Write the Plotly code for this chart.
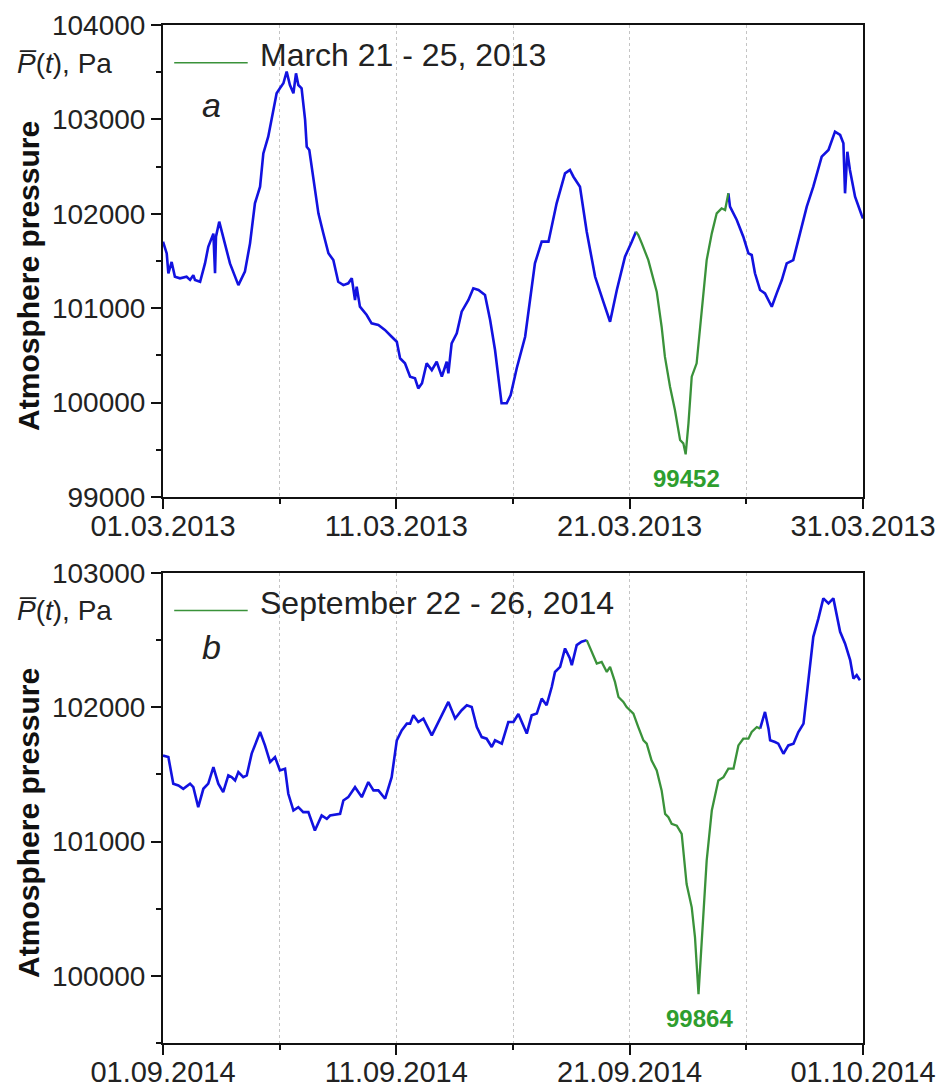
import pandas as pd
import plotly.graph_objects as go

# ---------------- data ----------------
START_A = "2013-03-01"
END_A = "2013-03-31"
START_B = "2014-09-01"
END_B = "2014-10-01"

# days since start of month, atmosphere pressure (Pa)
days_a = [0.00, 0.16, 0.23, 0.37, 0.51, 0.73, 1.01, 1.16, 1.30, 1.37, 1.59, 1.80, 1.94, 2.16, 2.23,
          2.27, 2.41, 2.58, 2.87, 3.23, 3.51, 3.73, 3.94, 4.16, 4.30, 4.51, 4.66, 4.87, 5.01, 5.16,
          5.30, 5.44, 5.59, 5.70, 5.80, 5.94, 6.09, 6.16, 6.27, 6.44, 6.66, 6.87, 7.09, 7.30, 7.51,
          7.73, 7.94, 8.09, 8.23, 8.30, 8.44, 8.73, 8.94, 9.23, 9.51, 9.80, 10.02, 10.16, 10.37, 10.59,
          10.80, 10.94, 11.10, 11.30, 11.52, 11.73, 11.95, 12.16, 12.23, 12.37, 12.59, 12.80, 13.09,
          13.30, 13.52, 13.80, 14.02, 14.23, 14.37, 14.51, 14.73, 14.90, 15.16, 15.52, 15.94, 16.23,
          16.52, 16.87, 17.23, 17.44, 17.59, 17.87, 18.16, 18.52, 18.87, 19.16, 19.45, 19.80, 20.09,
          20.27, 20.37, 20.52, 20.80, 21.16, 21.37, 21.51, 21.73, 21.94, 22.16, 22.30, 22.40, 22.52,
          22.66, 22.87, 23.09, 23.30, 23.52, 23.73, 23.94, 24.09, 24.23, 24.30, 24.59, 24.87, 25.09,
          25.23, 25.37, 25.59, 25.80, 26.09, 26.30, 26.52, 26.73, 27.01, 27.30, 27.59, 27.87, 28.23,
          28.52, 28.80, 29.02, 29.16, 29.23, 29.33, 29.44, 29.66, 29.94, 30.00]
pressure_a = [101704, 101580, 101370, 101490, 101333, 101317, 101333, 101300, 101350, 101300, 101280,
              101475, 101650, 101790, 101370, 101757, 101917, 101757, 101475, 101245, 101387, 101687,
              102111, 102287, 102640, 102817, 102994, 103277, 103330, 103383, 103506, 103364, 103277,
              103488, 103364, 103330, 102994, 102711, 102676, 102393, 102005, 101794, 101582, 101510,
              101280, 101245, 101264, 101317, 101087, 101229, 101017, 100928, 100840, 100822, 100770,
              100698, 100645, 100470, 100417, 100275, 100257, 100151, 100205, 100417, 100345, 100433,
              100275, 100433, 100310, 100628, 100734, 100963, 101087, 101211, 101193, 101140, 100875,
              100557, 100240, 99993, 99993, 100080, 100364, 100698, 101475, 101705, 101705, 102111,
              102429, 102464, 102393, 102287, 101811, 101333, 101069, 100857, 101193, 101546, 101705,
              101811, 101775, 101687, 101510, 101175, 100804, 100487, 100169, 99922, 99604, 99569,
              99452, 99780, 100275, 100417, 100981, 101510, 101793, 102005, 102058, 102040, 102217,
              102076, 101935, 101758, 101582, 101564, 101370, 101193, 101157, 101016, 101157, 101298,
              101475, 101510, 101793, 102076, 102287, 102605, 102676, 102870, 102835, 102747, 102217,
              102658, 102464, 102181, 101987, 101950]
highlight_a = (20.27, 24.23)          # "March 21 - 25, 2013"
min_label_a = "99452"

days_b = [0.00, 0.23, 0.44, 0.66, 0.87, 1.16, 1.30, 1.51, 1.73, 1.94, 2.16, 2.37, 2.58, 2.80, 2.94,
          3.09, 3.23, 3.44, 3.59, 3.80, 4.16, 4.37, 4.59, 4.80, 5.01, 5.23, 5.37, 5.59, 5.80, 6.01,
          6.23, 6.51, 6.80, 7.02, 7.16, 7.59, 7.73, 7.94, 8.23, 8.52, 8.80, 9.02, 9.23, 9.52, 9.80,
          10.02, 10.23, 10.45, 10.59, 10.73, 10.94, 11.16, 11.52, 11.80, 12.23, 12.52, 12.80, 13.02,
          13.23, 13.45, 13.66, 13.87, 14.09, 14.23, 14.52, 14.80, 15.02, 15.23, 15.59, 15.80, 16.02,
          16.23, 16.44, 16.66, 16.80, 17.02, 17.23, 17.44, 17.52, 17.73, 17.94, 18.16, 18.37, 18.59,
          18.80, 19.02, 19.16, 19.37, 19.52, 19.73, 19.87, 20.16, 20.37, 20.59, 20.73, 20.94, 21.16,
          21.37, 21.52, 21.66, 21.80, 22.02, 22.23, 22.44, 22.66, 22.80, 22.95, 23.09, 23.30, 23.52,
          23.80, 24.02, 24.23, 24.45, 24.66, 24.87, 25.09, 25.23, 25.45, 25.59, 25.80, 25.95, 26.02,
          26.23, 26.37, 26.59, 26.80, 27.02, 27.23, 27.45, 27.66, 27.87, 28.09, 28.30, 28.52, 28.73,
          29.02, 29.23, 29.45, 29.59, 29.73, 29.87]
pressure_b = [101640, 101629, 101431, 101418, 101393, 101431, 101405, 101256, 101393, 101431, 101555,
              101431, 101368, 101493, 101480, 101455, 101517, 101480, 101493, 101655, 101816, 101716,
              101592, 101629, 101530, 101543, 101356, 101231, 101256, 101219, 101219, 101082, 101194,
              101169, 101194, 101206, 101306, 101331, 101405, 101331, 101443, 101381, 101381, 101319,
              101480, 101754, 101828, 101878, 101878, 101940, 101890, 101916, 101791, 101890, 102040,
              101916, 101978, 102015, 102002, 101853, 101778, 101766, 101704, 101754, 101729, 101890,
              101890, 101950, 101804, 101940, 101953, 102065, 102015, 102151, 102263, 102301, 102438,
              102363, 102313, 102463, 102488, 102500, 102413, 102326, 102338, 102263, 102301, 102189,
              102077, 102040, 102002, 101953, 101853, 101754, 101729, 101604, 101530, 101381, 101206,
              101182, 101132, 101119, 101057, 100684, 100510, 100286, 99864, 100286, 100858, 101231,
              101455, 101480, 101543, 101543, 101716, 101766, 101766, 101816, 101853, 101841, 101965,
              101841, 101754, 101741, 101729, 101654, 101716, 101729, 101816, 101878, 102201, 102525,
              102662, 102811, 102774, 102811, 102562, 102475, 102351, 102214, 102239, 102201]
highlight_b = (18.16, 25.59)          # "September 22 - 26, 2014"
min_label_b = "99864"

legend_a = "March 21 - 25, 2013"
legend_b = "September 22 - 26, 2014"
panel_a, panel_b = "a", "b"
y_title = "Atmosphere pressure"
unit_label = "<i>P\u0305</i>(<i>t</i>), Pa"

# ---------------- styling ----------------
FONT = "Arial, 'Liberation Sans', sans-serif"
BLUE = "#1212e0"
GREEN_LINE = "#3a923a"
GREEN_TEXT = "#2e9e2e"
TXT = "#222222"

def to_dates(start, days):
    return pd.Timestamp(start) + pd.to_timedelta(days, unit="D")

fig = go.Figure()

panels = [
    dict(start=START_A, days=days_a, p=pressure_a, hl=highlight_a, lab=min_label_a,
         x="x", y="y", leg=legend_a, pl=panel_a, ply=0.83, ty=0.7534, uy=0.962),
    dict(start=START_B, days=days_b, p=pressure_b, hl=highlight_b, lab=min_label_b,
         x="x2", y="y2", leg=legend_b, pl=panel_b, ply=0.842, ty=0.2161, uy=0.425),
]

for pn in panels:
    d = pd.Series(pn["days"])
    p = pd.Series(pn["p"], dtype=float)
    t = to_dates(pn["start"], d)
    inner = (d > pn["hl"][0]) & (d < pn["hl"][1])
    hl = (d >= pn["hl"][0]) & (d <= pn["hl"][1])
    fig.add_trace(go.Scatter(x=t, y=p.where(~inner), mode="lines", connectgaps=False,
                             line=dict(color=BLUE, width=2.6),
                             xaxis=pn["x"], yaxis=pn["y"], showlegend=False))
    fig.add_trace(go.Scatter(x=t[hl], y=p[hl], mode="lines", line=dict(color=GREEN_LINE, width=2.3),
                             xaxis=pn["x"], yaxis=pn["y"], showlegend=False, name=pn["leg"]))
    i = int(p.idxmin())
    xs = "" if pn["x"] == "x" else "2"
    fig.add_annotation(x=t[i], y=p[i], xref=pn["x"], yref=pn["y"], text="<b>%s</b>" % pn["lab"],
                       showarrow=False, yanchor="top", yshift=-9, xshift=1,
                       font=dict(family=FONT, size=24, color=GREEN_TEXT))
    # panel letter
    fig.add_annotation(x=0.069, y=pn["ply"], xref="x%s domain" % xs, yref="y%s domain" % xs,
                       text="<i>%s</i>" % pn["pl"], showarrow=False, xanchor="center", yanchor="middle",
                       font=dict(family=FONT, size=34, color=TXT))
    # legend sample + text
    fig.add_shape(type="line", xref="x%s domain" % xs, yref="y%s domain" % xs,
                  x0=0.016, x1=0.121, y0=0.92, y1=0.92, line=dict(color=GREEN_LINE, width=1.5))
    fig.add_annotation(x=0.135, y=0.937, xref="x%s domain" % xs, yref="y%s domain" % xs,
                       text=pn["leg"], showarrow=False, xanchor="left", yanchor="middle",
                       font=dict(family=FONT, size=32, color=TXT))
    # y title (rotated)
    fig.add_annotation(x=-0.193, y=pn["ty"], xref="paper", yref="paper",
                       text="<b>%s</b>" % y_title, textangle=-90, showarrow=False,
                       xanchor="center", yanchor="middle",
                       font=dict(family=FONT, size=30, color="#111"))
    # unit label
    fig.add_annotation(x=-0.212, y=pn["uy"], xref="paper", yref="paper", text=unit_label,
                       showarrow=False, xanchor="left", yanchor="middle",
                       font=dict(family=FONT, size=28, color=TXT))

DAY = 86400000
xcommon = dict(type="date", tickformat="%d.%m.%Y", dtick=10 * DAY, ticks="outside", ticklen=10,
               tickwidth=2, tickcolor="#111", linecolor="#111", linewidth=2, mirror=True,
               showgrid=True, gridcolor="#c4c4c4", gridwidth=1, griddash="dot",
               tickfont=dict(family=FONT, size=29, color=TXT), automargin=False,
               ticklabelstandoff=-8, zeroline=False)
ycommon = dict(ticks="outside", ticklen=10, tickwidth=2, tickcolor="#111", dtick=1000,
               tickformat="d", linecolor="#111", linewidth=2, mirror=True, showgrid=False,
               zeroline=False, tickfont=dict(family=FONT, size=28, color=TXT), automargin=False,
               minor=dict(dtick=500, ticks="outside", ticklen=5, tickwidth=2, tickcolor="#111"))

def xminor(start):
    return dict(tick0=start, dtick=5 * DAY, ticks="outside", ticklen=5, tickwidth=2, tickcolor="#111",
                showgrid=True, gridcolor="#c4c4c4", gridwidth=1, griddash="dot")

fig.update_layout(
    width=939, height=1089,
    margin=dict(l=163, r=76, t=25, b=46, autoexpand=False),
    paper_bgcolor="white", plot_bgcolor="white",
    showlegend=False,
    xaxis=dict(xcommon, domain=[0, 1], anchor="y", range=[START_A, END_A], tick0=START_A,
               minor=xminor(START_A)),
    yaxis=dict(ycommon, domain=[0.5363, 1], anchor="x", range=[99000, 104000]),
    xaxis2=dict(xcommon, domain=[0, 1], anchor="y2", range=[START_B, END_B], tick0=START_B,
                minor=xminor(START_B)),
    yaxis2=dict(ycommon, domain=[0, 0.4617], anchor="x2", range=[99500, 103000]),
)

fig.write_html("out.html")
